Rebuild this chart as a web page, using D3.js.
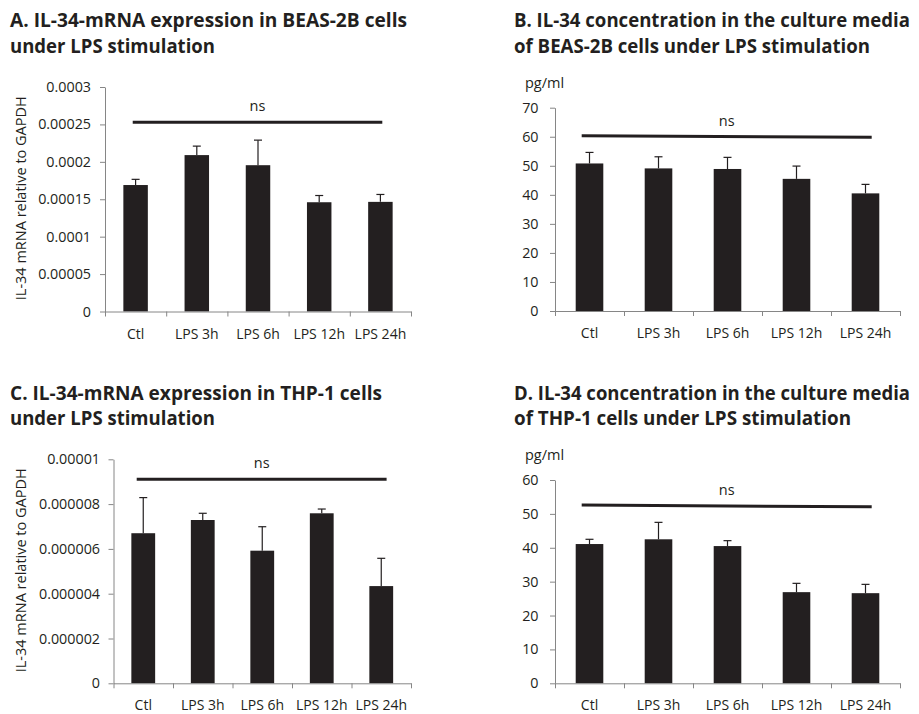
<!DOCTYPE html>
<html>
<head>
<meta charset="utf-8">
<script src="https://cdn.jsdelivr.net/npm/d3@7"></script>
<style>
  html, body { margin: 0; padding: 0; background: #fff; }
  svg { display: block; font-family: "Open Sans", sans-serif; }
</style>
</head>
<body>
<svg id="chart" width="919" height="714"></svg>
<script>
// ---------------- data ----------------
const categories = ["Ctl", "LPS 3h", "LPS 6h", "LPS 12h", "LPS 24h"];

const meanA = [0.000169, 0.000209, 0.0001955, 0.000146, 0.0001465];
const errA  = [0.0000076, 0.000012, 0.0000335, 0.000009, 0.0000099];

const meanB = [50.8, 49.1, 48.9, 45.5, 40.5];
const errB  = [3.8, 4.0, 4.0, 4.4, 3.1];

const meanC = [0.0000067, 0.00000729, 0.00000592, 0.00000759, 0.00000434];
const errC  = [0.00000159, 0.0000003, 0.00000107, 0.00000019, 0.00000124];

const meanD = [41.1, 42.5, 40.5, 26.9, 26.6];
const errD  = [1.4, 5.0, 1.6, 2.6, 2.6];

const ticksA  = [0, 0.00005, 0.0001, 0.00015, 0.0002, 0.00025, 0.0003];
const tickLabelsA = ["0", "0.00005", "0.0001", "0.00015", "0.0002", "0.00025", "0.0003"];
const ticksB  = [0, 10, 20, 30, 40, 50, 60, 70];
const tickLabelsB = ["0", "10", "20", "30", "40", "50", "60", "70"];
const ticksC  = [0, 0.000002, 0.000004, 0.000006, 0.000008, 0.00001];
const tickLabelsC = ["0", "0.000002", "0.000004", "0.000006", "0.000008", "0.00001"];
const ticksD  = [0, 10, 20, 30, 40, 50, 60];
const tickLabelsD = ["0", "10", "20", "30", "40", "50", "60"];

// "ns" bracket: [start category position, end category position], [start value, end value]
const nsPosA = [0.453, 4.531], nsValA = [0.000253, 0.000253];
const nsPosB = [0.387, 4.59],  nsValB = [60.3, 59.8];
const nsPosC = [0.39, 4.59],   nsValC = [0.00000911, 0.00000911];
const nsPosD = [0.387, 4.59],  nsValD = [52.6, 52.1];

const titlesA = ["A. IL-34-mRNA expression in BEAS-2B cells", "under LPS stimulation"];
const titlesB = ["B. IL-34 concentration in the culture media", "of BEAS-2B cells under LPS stimulation"];
const titlesC = ["C. IL-34-mRNA expression in THP-1 cells", "under LPS stimulation"];
const titlesD = ["D. IL-34 concentration in the culture media", "of THP-1 cells under LPS stimulation"];

const yLabelMRNA = "IL-34 mRNA relative to GAPDH";
const unitLabel = "pg/ml";

// ---------------- drawing ----------------
const svg = d3.select("#chart");
const INK = "#231f20";
const AXIS = "#868686";

function panel(cfg) {
  const g = svg.append("g");
  const x = d3.scaleBand().domain(categories).range([cfg.left, cfg.right])
    .paddingInner(0.6).paddingOuter(0.3);
  const xPos = d3.scaleLinear().domain([0, categories.length]).range([cfg.left, cfg.right]);
  const y = d3.scaleLinear().domain([0, cfg.ticks[cfg.ticks.length - 1]]).range([cfg.bottom, cfg.top]);

  // bars
  g.selectAll("rect.bar").data(cfg.mean).join("rect")
    .attr("class", "bar")
    .attr("x", (d, i) => x(categories[i]))
    .attr("width", x.bandwidth())
    .attr("y", d => y(d))
    .attr("height", d => y(0) - y(d))
    .attr("fill", INK);

  // error bars (upward)
  const cap = 4;
  cfg.mean.forEach((m, i) => {
    const cx = x(categories[i]) + x.bandwidth() / 2;
    g.append("line").attr("x1", cx).attr("x2", cx)
      .attr("y1", y(m)).attr("y2", y(m + cfg.err[i]))
      .attr("stroke", INK).attr("stroke-width", 1.2);
    g.append("line").attr("x1", cx - cap).attr("x2", cx + cap)
      .attr("y1", y(m + cfg.err[i])).attr("y2", y(m + cfg.err[i]))
      .attr("stroke", INK).attr("stroke-width", 1.2);
  });

  // y axis
  const yAxis = d3.axisLeft(y).tickValues(cfg.ticks)
    .tickFormat((d, i) => cfg.tickLabels[i])
    .tickSize(5).tickSizeOuter(0).tickPadding(cfg.tickPad);
  const ya = g.append("g").attr("transform", `translate(${cfg.left},0)`).call(yAxis);
  ya.selectAll("path, line").attr("stroke", AXIS);
  ya.selectAll("text").attr("fill", INK).style("font-size", "14.3px")
    .style("font-family", "'Open Sans', sans-serif");

  // x axis: boundary ticks
  const xAxis = d3.axisBottom(xPos).tickValues(d3.range(categories.length + 1))
    .tickFormat("").tickSize(5).tickSizeOuter(0);
  const xa = g.append("g").attr("transform", `translate(0,${cfg.bottom})`).call(xAxis);
  xa.selectAll("path, line").attr("stroke", AXIS);

  // category labels
  g.selectAll("text.cat").data(categories).join("text")
    .attr("class", "cat")
    .attr("x", d => x(d) + x.bandwidth() / 2)
    .attr("y", cfg.bottom + 27)
    .attr("text-anchor", "middle")
    .attr("fill", INK).style("font-size", "14px")
    .text(d => d);

  // ns bracket
  g.append("line")
    .attr("x1", xPos(cfg.nsPos[0])).attr("x2", xPos(cfg.nsPos[1]))
    .attr("y1", y(cfg.nsVal[0])).attr("y2", y(cfg.nsVal[1]))
    .attr("stroke", INK).attr("stroke-width", 3);
  g.append("text")
    .attr("x", xPos((cfg.nsPos[0] + cfg.nsPos[1]) / 2))
    .attr("y", y((cfg.nsVal[0] + cfg.nsVal[1]) / 2) - 11)
    .attr("text-anchor", "middle").attr("fill", INK).style("font-size", "14.5px")
    .text("ns");

  // axis title
  if (cfg.yLabel) {
    const cy = (cfg.top + cfg.bottom) / 2 - 1;
    g.append("text")
      .attr("transform", `translate(${cfg.yLabelX},${cy}) rotate(-90)`)
      .attr("text-anchor", "middle").attr("dominant-baseline", "central")
      .attr("fill", INK).style("font-size", "14.5px")
      .text(cfg.yLabel);
  }
  if (cfg.unit) {
    g.append("text")
      .attr("x", cfg.left - 30).attr("y", cfg.top - 20)
      .attr("fill", INK).style("font-size", "14.5px")
      .text(cfg.unit);
  }

  // title
  cfg.titles.forEach((t, i) => {
    g.append("text")
      .attr("x", cfg.titleX).attr("y", cfg.titleY + i * 25.5)
      .attr("fill", INK).style("font-size", "19px").style("font-weight", "700")
      .attr("textLength", cfg.titleW[i]).attr("lengthAdjust", "spacingAndGlyphs")
      .text(t);
  });
}

panel({ left: 105, right: 411, top: 87, bottom: 311.5, mean: meanA, err: errA,
  ticks: ticksA, tickLabels: tickLabelsA, tickPad: 9, nsPos: nsPosA, nsVal: nsValA,
  yLabel: yLabelMRNA, yLabelX: 20, titles: titlesA, titleX: 10, titleY: 27, titleW: [397, 205] });

panel({ left: 555, right: 900, top: 107.7, bottom: 311, mean: meanB, err: errB,
  ticks: ticksB, tickLabels: tickLabelsB, tickPad: 11.5, nsPos: nsPosB, nsVal: nsValB,
  unit: unitLabel, titles: titlesB, titleX: 514, titleY: 27, titleW: [396, 356] });

panel({ left: 113.5, right: 411, top: 459.3, bottom: 683.3, mean: meanC, err: errC,
  ticks: ticksC, tickLabels: tickLabelsC, tickPad: 8.5, nsPos: nsPosC, nsVal: nsValC,
  yLabel: yLabelMRNA, yLabelX: 20, titles: titlesC, titleX: 10, titleY: 399.5, titleW: [372, 205] });

panel({ left: 555, right: 900, top: 480, bottom: 683.3, mean: meanD, err: errD,
  ticks: ticksD, tickLabels: tickLabelsD, tickPad: 11.5, nsPos: nsPosD, nsVal: nsValD,
  unit: unitLabel, titles: titlesD, titleX: 514, titleY: 399.5, titleW: [396, 337] });
</script>
</body>
</html>
